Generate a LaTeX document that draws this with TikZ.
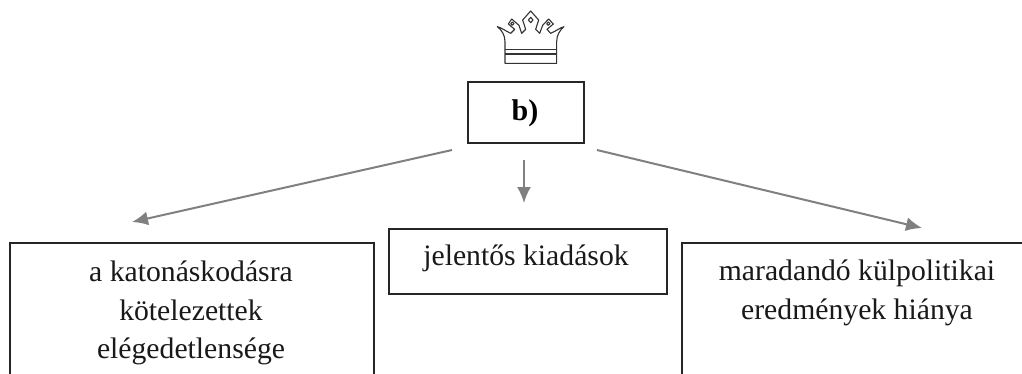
\documentclass[tikz,border=0pt]{standalone}
\usepackage{fontspec}
\setmainfont{Liberation Serif}
\usetikzlibrary{arrows.meta}
\tikzset{
  x=1pt,y=-1pt,
  boxnode/.style={draw=black!85,line width=2pt,rectangle,anchor=north west,inner sep=0pt},
  txt/.style={font=\fontsize{29.7}{38.5}\selectfont,text=black!90,align=center,anchor=center,inner sep=0pt},
  arr/.style={draw=black!50,line width=2pt,-{Latex[length=16pt,width=14pt]}},
  crownline/.style={draw=black!80,line width=1.1pt,line join=round}
}
\begin{document}
\begin{tikzpicture}
\useasboundingbox (0,0) rectangle (1022,373);
\clip (0,0) rectangle (1022,373);
\node[boxnode,minimum width=116pt,minimum height=61pt] (b) at (467,81) {};
\node[font=\fontsize{30}{34}\selectfont\bfseries,inner sep=0pt] (bt) at (525,113) {b)};
\node[boxnode,minimum width=364pt,minimum height=200pt] (l) at (9,242) {};
\node[boxnode,minimum width=278pt,minimum height=65pt] (m) at (388,228) {};
\node[boxnode,minimum width=400pt,minimum height=200pt] (r) at (681,242) {};
\node[txt] (lt) at (191,313) {a katonáskodásra\\kötelezettek\\elégedetlensége};
\node[txt] (mt) at (526,258) {jelentős kiadások};
\node[txt] (rt) at (857,293) {maradandó külpolitikai\\eredmények hiánya};
\coordinate (a1) at (452,150);
\coordinate (a2) at (132,222);
\coordinate (c1) at (524,160);
\coordinate (c2) at (524,203);
\coordinate (d1) at (597,150);
\coordinate (d2) at (922,228);
\draw[arr] (a1) -- (a2);
\draw[arr] (c1) -- (c2);
\draw[arr] (d1) -- (d2);
\begin{scope}[shift={(440,0)},x=0.3333pt,y=-0.3333pt]
\draw[crownline] (195,190) -- (195,125) .. controls (195,105) and (185,90) .. (172,80)
 .. controls (185,83) and (200,95) .. (212,100) -- (224,88) -- (205,72) -- (215,57) -- (237,76) -- (245,100) -- (257,88) -- (248,60) -- (272,33) -- (296,60) -- (287,88) -- (299,100) -- (308,76) -- (326,57) -- (340,72) -- (321,88) -- (332,100)
 .. controls (345,95) and (360,83) .. (372,80) .. controls (360,90) and (350,105) .. (350,125) -- (350,190) -- cycle;
\draw[crownline] (195,148) -- (350,148) (195,162) -- (350,162);
\draw[crownline] (272,52) -- (279,60) -- (272,68) -- (265,60) -- cycle;
\draw[crownline] (217,66) -- (222,71) -- (217,76) -- (212,71) -- cycle;
\draw[crownline] (325,66) -- (330,71) -- (325,76) -- (320,71) -- cycle;
\end{scope}
\end{tikzpicture}
\end{document}
